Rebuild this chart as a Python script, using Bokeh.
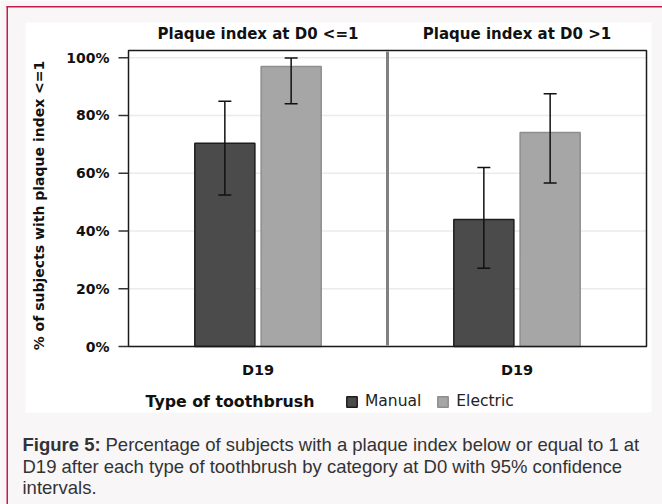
import math
from bokeh.plotting import figure
from bokeh.models import Range1d, ColumnDataSource, Legend, LegendItem
from bokeh.core.properties import value
from bokeh.embed import file_html
from bokeh.resources import INLINE

# ---------------- data ----------------
panels = ["Plaque index at D0 <=1", "Plaque index at D0 >1"]
timepoint = ["D19", "D19"]
series = ["Manual", "Electric"]
manual_pct = [70.4, 44.0]
manual_lo = [52.5, 27.1]
manual_hi = [84.9, 62.0]
electric_pct = [97.0, 74.1]
electric_lo = [84.1, 56.6]
electric_hi = [99.9, 87.5]
y_ticks = [0, 20, 40, 60, 80, 100]
y_tick_labels = ["0%", "20%", "40%", "60%", "80%", "100%"]
y_axis_title = "% of subjects with plaque index <=1"
legend_title = "Type of toothbrush"
caption_bold = "Figure 5:"
caption_lines = [
    "Percentage of subjects with a plaque index below or equal to 1 at",
    "D19 after each type of toothbrush by category at D0 with 95% confidence",
    "intervals.",
]

# ---------------- layout ----------------
W, H = 662, 504
BOX_L, BOX_R, BOX_T, BOX_B = 128, 646, 50, 346   # plot box in page pixels
Y_TOP = 102.5                                      # value at top of plot box
DODGE = 0.128
BAR_W = 0.232
BOLD = value("DejaVu Sans")
CAP = value("Liberation Sans")
INK = "#111111"

n = len(panels)
centers = [i + 0.5 for i in range(n)]
sx = (BOX_R - BOX_L) / n
sy = (BOX_B - BOX_T) / Y_TOP

p = figure(width=W, height=H, output_backend="svg", toolbar_location=None,
           x_range=Range1d(0, W), y_range=Range1d(H, 0),
           x_axis_type=None, y_axis_type=None, min_border=0)
p.extra_x_ranges = {"data": Range1d(-BOX_L / sx, (W - BOX_L) / sx)}
p.extra_y_ranges = {"data": Range1d(-(H - BOX_B) / sy, BOX_B / sy)}
p.outline_line_color = None
bg = "#f9f6f8"
p.background_fill_color = bg
p.border_fill_color = bg
p.grid.visible = False

D = dict(x_range_name="data", y_range_name="data")

# page decorations
red = "#c41d4b"
p.quad(left=6, right=7.5, top=5.5, bottom=H, fill_color=red, line_color=None)
p.quad(left=6, right=W, top=5.5, bottom=7, fill_color=red, line_color=None)
p.quad(left=25, right=651, top=22, bottom=412, fill_color="white", line_color=None)

# grid lines
p.segment(x0=0, x1=n, y0=y_ticks, y1=y_ticks, line_color="#ebebeb", line_width=1.5, **D)

# bars
src_m = ColumnDataSource(dict(x=[c - DODGE for c in centers], top=manual_pct, lo=manual_lo, hi=manual_hi))
src_e = ColumnDataSource(dict(x=[c + DODGE for c in centers], top=electric_pct, lo=electric_lo, hi=electric_hi))
r_m = p.vbar(x="x", top="top", bottom=0, width=BAR_W, source=src_m,
             fill_color="#4b4b4b", line_color="#1e1e1e", line_width=1.5, **D)
r_e = p.vbar(x="x", top="top", bottom=0, width=BAR_W, source=src_e,
             fill_color="#a6a6a6", line_color="#8e8e8e", line_width=1.5, **D)

# error bars
for src in (src_m, src_e):
    p.segment(x0="x", x1="x", y0="lo", y1="hi", source=src, line_color=INK, line_width=1.5, **D)
    for col in ("lo", "hi"):
        p.scatter(x="x", y=col, source=src, marker="dash", size=13,
                  line_color=INK, line_width=1.5, **D)

# plot box, divider, ticks
p.quad(left=BOX_L, right=BOX_R, top=BOX_T, bottom=BOX_B, fill_alpha=0,
       line_color="#1a1a1a", line_width=1.5)
p.segment(x0=1, x1=1, y0=BOX_T + 1, y1=BOX_B - 1, x_range_name="data",
          line_color="#808080", line_width=3)
p.segment(x0=BOX_L - 10, x1=BOX_L, y0=y_ticks, y1=y_ticks, y_range_name="data",
          line_color="#333333", line_width=1.5)

# tick labels and titles
p.text(x=BOX_L - 19, y=y_ticks, text=y_tick_labels, y_range_name="data",
       text_font=BOLD, text_font_style="bold", text_font_size="14px", text_color=INK,
       text_align="right", text_baseline="middle")
p.text(x=[38], y=[205], text=[y_axis_title], angle=math.pi / 2,
       text_font=BOLD, text_font_style="bold", text_font_size="14px", text_color=INK,
       text_align="center", text_baseline="middle")
p.text(x=centers, y=33, text=panels, x_range_name="data",
       text_font=BOLD, text_font_style="bold", text_font_size="15px", text_color=INK,
       text_align="center", text_baseline="middle")
p.text(x=centers, y=369, text=timepoint, x_range_name="data",
       text_font=BOLD, text_font_style="bold", text_font_size="14.5px", text_color=INK,
       text_align="center", text_baseline="middle")

# legend
p.text(x=[145], y=[401], text=[legend_title],
       text_font=BOLD, text_font_style="bold", text_font_size="15.8px", text_color=INK,
       text_align="left", text_baseline="middle")
legend = Legend(items=[LegendItem(label=series[0], renderers=[r_m]),
                       LegendItem(label=series[1], renderers=[r_e])],
                orientation="horizontal", location=(345, H - 410))
legend.label_text_font = "DejaVu Sans"
legend.label_text_font_size = "15.5px"
legend.label_text_color = "#222222"
legend.glyph_width = 13
legend.glyph_height = 13
legend.label_standoff = 7
legend.spacing = 15
legend.padding = 0
legend.margin = 0
legend.border_line_color = None
legend.background_fill_alpha = 0
p.add_layout(legend)

# caption
cap_size = "18.5px"
cap_x = 22
line_y = [444, 466, 487]
p.text(x=[cap_x], y=[line_y[0]], text=[caption_bold], text_font=CAP, text_font_style="bold",
       text_font_size=cap_size, text_color="#333333", text_baseline="middle")
p.text(x=[cap_x + 83], y=[line_y[0]], text=[caption_lines[0]], text_font=CAP,
       text_font_size=cap_size, text_color="#333333", text_baseline="middle")
p.text(x=[cap_x] * 2, y=line_y[1:], text=caption_lines[1:], text_font=CAP,
       text_font_size=cap_size, text_color="#333333", text_baseline="middle")

open("out.html", "w").write(file_html(p, INLINE))
